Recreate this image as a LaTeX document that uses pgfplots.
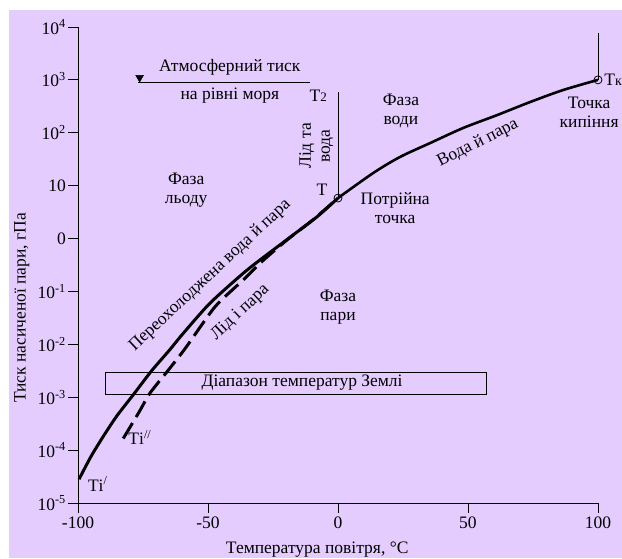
\documentclass[border=0pt]{standalone}
\usepackage{fontspec}
\setmainfont{Liberation Serif}
\usepackage{pgfplots}
\pgfplotsset{compat=1.18}
\definecolor{lav}{RGB}{229,204,255}
\newcommand{\fs}{\fontsize{17.5}{19}\selectfont}
\begin{document}
\begin{tikzpicture}[font=\fs]
\fill[lav] (-69pt,-55pt) rectangle (544pt,493pt);
\useasboundingbox (-78pt,-55pt) rectangle (544pt,503pt);
\begin{axis}[
  at={(0pt,0pt)}, anchor=south west,
  scale only axis, width=520pt, height=476pt,
  xmin=-100, xmax=100, ymin=1e-5, ymax=1e4, ymode=log,
  axis lines*=left,
  axis line style={line width=0.8pt},
  tick align=outside, major tick length=10pt,
  tick style={line width=0.8pt, black},
  yminorticks=false, xminorticks=false,
  xtick={-100,-50,0,50,100},
  xticklabels={-100,-50,0,50,100},
  ytick={1e-5,1e-4,1e-3,1e-2,1e-1,1,10,100,1000,10000},
  yticklabels={10\textsuperscript{-5},10\textsuperscript{-4},10\textsuperscript{-3},10\textsuperscript{-2},10\textsuperscript{-1},0,10,10\textsuperscript{2},10\textsuperscript{3},10\textsuperscript{4}},
  tick label style={font=\fs},
  yticklabel style={inner sep=2pt},
  clip=false,
]
% supercooled water & vapour (solid)
\addplot[line width=3pt, smooth, tension=0.4] coordinates {
(-99.6,2.82e-5) (-95,7.59e-5) (-90,1.91e-4) (-85,4.47e-4) (-78.7,1.12e-3)
(-71.7,3.16e-3) (-65,7.59e-3) (-59.5,1.62e-2) (-49.2,6.03e-2) (-35.1,0.251)
(-21,0.851) (-8.1,2.57) (0,5.83)};
% water & vapour
\addplot[line width=2.6pt, smooth, tension=0.5] coordinates {
(0,5.83) (13.5,17.3) (23.8,34.8) (35.4,63.8) (48.1,123) (61.2,216) (73.8,380) (86.5,641) (100,1000)};
% ice & vapour (dashed)
\addplot[line width=3pt, smooth, tension=0.4, dash pattern=on 18pt off 7pt] coordinates {
(-82.6,1.66e-4) (-76.5,5.25e-4) (-72.3,1.20e-3) (-65.3,3.24e-3) (-58.8,8.32e-3)
(-47.3,5.13e-2) (-36.4,0.166) (-28.7,0.389) (-19.7,0.933) (-10,2.19) (0,5.83)};
% ice & water line, boiling line
\addplot[line width=0.8pt] coordinates {(0,5.83) (0,590)};
\addplot[line width=0.8pt] coordinates {(100,1000) (100,7600)};
% atmospheric pressure
\addplot[line width=1pt] coordinates {(-76.9,910) (-10.8,910)};
\addplot[only marks, mark=triangle*, mark size=4.5pt, mark options={rotate=180, fill=black}] coordinates {(-76.3,1104)};
% Earth temperature range box
\addplot[line width=0.8pt, sharp plot] coordinates {(-89.6,1.15e-3) (56.9,1.15e-3) (56.9,2.99e-3) (-89.6,2.99e-3) (-89.6,1.15e-3)};
% triple point & boiling point
\addplot[only marks, mark=o, mark size=4pt, mark options={fill=lav, line width=0.8pt}] coordinates {(0,5.83) (100,1000)};

% labels
\node at (rel axis cs:0.292,0.916) {Атмосферний тиск};
\node at (rel axis cs:0.292,0.857) {на рівні моря};
\node at (rel axis cs:0.462,0.855) {T{\fontsize{13}{13}\selectfont 2}};
\node[rotate=90, align=center] at (rel axis cs:0.458,0.750) {Лід та\\вода};
\node[align=center] at (rel axis cs:0.621,0.824) {Фаза\\води};
\node[align=center] at (rel axis cs:0.208,0.658) {Фаза\\льоду};
\node[align=center] at (rel axis cs:0.500,0.412) {Фаза\\пари};
\node[align=center] at (rel axis cs:0.610,0.620) {Потрійна\\точка};
\node[align=center] at (rel axis cs:0.983,0.821) {Точка\\кипіння};
\node at (rel axis cs:0.469,0.658) {T};
\node[anchor=west, inner sep=0pt] at (rel axis cs:1.012,0.889) {T{\fontsize{14}{14}\selectfont к}};
\node[rotate=43] at (rel axis cs:0.254,0.478) {Переохолоджена вода й пара};
\node[rotate=43] at (rel axis cs:0.312,0.400) {Лід і пара};
\node[rotate=27] at (rel axis cs:0.769,0.756) {Вода й пара};
\node at (rel axis cs:0.431,0.252) {Діапазон температур Землі};
\node at (rel axis cs:0.038,0.040) {Tі\textsuperscript{/}};
\node at (rel axis cs:0.119,0.137) {Tі\textsuperscript{//}};
\node at (rel axis cs:0.460,-0.097) {Температура повітря, °C};
\node[rotate=90] at (rel axis cs:-0.108,0.410) {Тиск насиченої пари, гПа};
\end{axis}
\end{tikzpicture}
\end{document}
